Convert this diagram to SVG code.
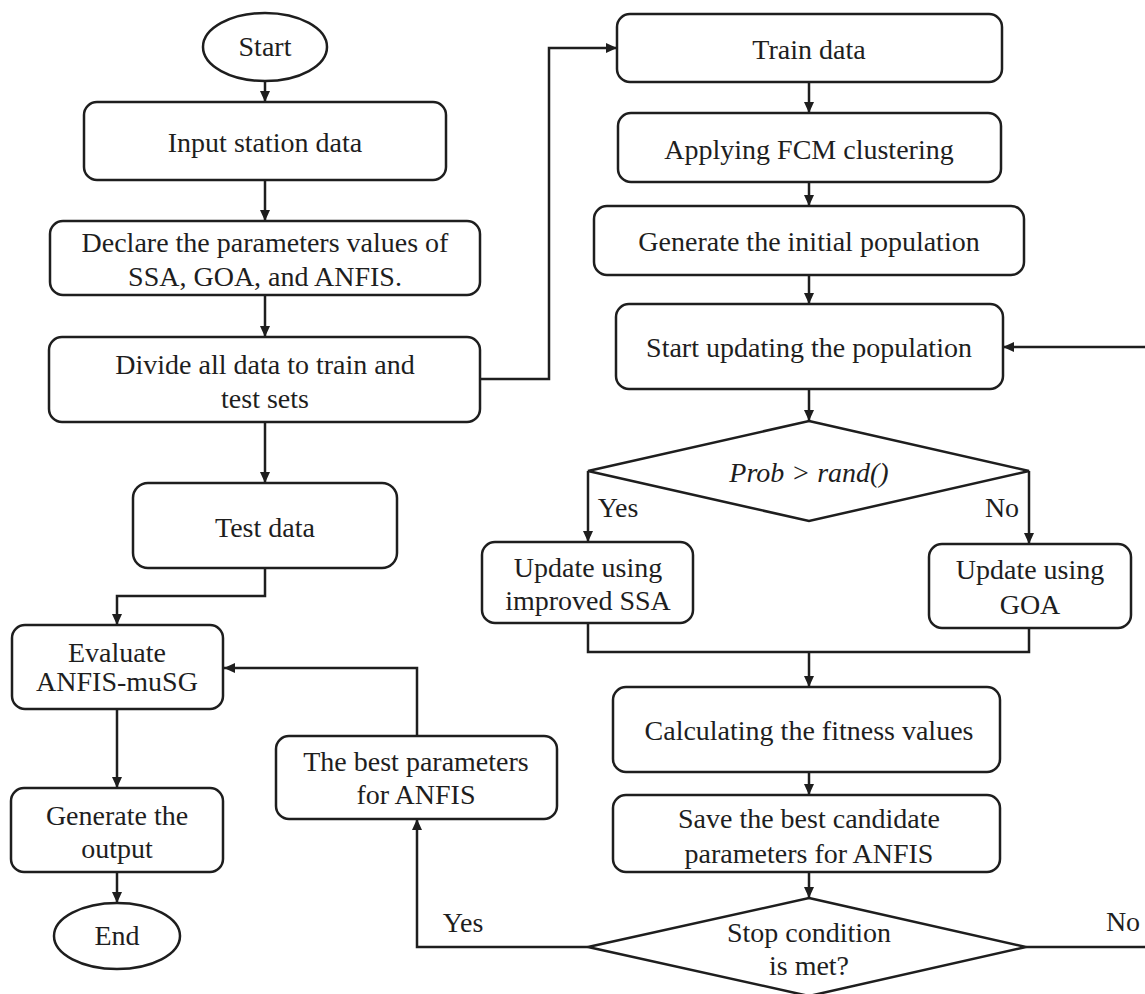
<svg xmlns="http://www.w3.org/2000/svg" width="1145" height="994" viewBox="0 0 1145 994" font-family="Liberation Serif, Times New Roman, Times, Tinos, Nimbus Roman, Noto Serif, DejaVu Serif, serif">
<style>
.n{fill:#fff;stroke:#1e1e1e;stroke-width:2.5}
text{font-size:28px;fill:#1e1e1e;text-anchor:middle}
.i{font-style:italic}
.c{fill:none;stroke:#1e1e1e;stroke-width:2.5}
</style>
<defs>
<marker id="ah" markerWidth="12" markerHeight="10" refX="11" refY="5" orient="auto" markerUnits="userSpaceOnUse">
<path d="M0,0 L11,5 L0,10 z" fill="#1e1e1e"/>
</marker>
</defs>
<rect width="1145" height="994" fill="#fff"/>
<g id="connectors">
<path class="c" d="M265,81 V102" marker-end="url(#ah)"/>
<path class="c" d="M265,180 V221" marker-end="url(#ah)"/>
<path class="c" d="M265,295 V337" marker-end="url(#ah)"/>
<path class="c" d="M480,379 H549 V48 H617" marker-end="url(#ah)"/>
<path class="c" d="M265,422 V483" marker-end="url(#ah)"/>
<path class="c" d="M265,568 V596 H117 V625" marker-end="url(#ah)"/>
<path class="c" d="M117,709 V788" marker-end="url(#ah)"/>
<path class="c" d="M117,872 V903" marker-end="url(#ah)"/>
<path class="c" d="M809,82 V113" marker-end="url(#ah)"/>
<path class="c" d="M809,182 V206" marker-end="url(#ah)"/>
<path class="c" d="M809,275 V304" marker-end="url(#ah)"/>
<path class="c" d="M809,389 V421" marker-end="url(#ah)"/>
<path class="c" d="M588,471 V542" marker-end="url(#ah)"/>
<path class="c" d="M1029,471 V544" marker-end="url(#ah)"/>
<path class="c" d="M588,623 V652 H1029 V628"/>
<path class="c" d="M809,652 V687" marker-end="url(#ah)"/>
<path class="c" d="M809,772 V795" marker-end="url(#ah)"/>
<path class="c" d="M809,872 V898" marker-end="url(#ah)"/>
<path class="c" d="M588,947 H417 V819" marker-end="url(#ah)"/>
<path class="c" d="M417,736 V668 H224" marker-end="url(#ah)"/>
<path class="c" d="M1026,947 H1146"/>
<path class="c" d="M1146,347 H1003" marker-end="url(#ah)"/>
<text x="618" y="517">Yes</text>
<text x="1002" y="517">No</text>
<text x="463" y="932">Yes</text>
<text x="1123" y="931">No</text>
</g>
<g id="start"><ellipse class="n" cx="265" cy="47" rx="62" ry="34"/><text x="265" y="56">Start</text></g>
<g id="input"><rect class="n" x="84" y="102" width="362" height="78" rx="13"/><text x="265" y="152">Input station data</text></g>
<g id="declare"><rect class="n" x="50" y="221" width="430" height="74" rx="13"/><text x="265" y="252">Declare the parameters values of</text><text x="265" y="286">SSA, GOA, and ANFIS.</text></g>
<g id="divide"><rect class="n" x="49" y="337" width="431" height="85" rx="13"/><text x="265" y="374">Divide all data to train and</text><text x="265" y="408">test sets</text></g>
<g id="test"><rect class="n" x="133" y="483" width="264" height="85" rx="15"/><text x="265" y="537">Test data</text></g>
<g id="evaluate"><rect class="n" x="12" y="625" width="211" height="84" rx="13"/><text x="117" y="662">Evaluate</text><text x="117" y="691">ANFIS-muSG</text></g>
<g id="output"><rect class="n" x="11" y="788" width="212" height="84" rx="13"/><text x="117" y="825">Generate the</text><text x="117" y="858">output</text></g>
<g id="end"><ellipse class="n" cx="117" cy="936" rx="63" ry="33"/><text x="117" y="945">End</text></g>
<g id="train"><rect class="n" x="617" y="14" width="385" height="68" rx="13"/><text x="809" y="59">Train data</text></g>
<g id="fcm"><rect class="n" x="618" y="113" width="383" height="69" rx="13"/><text x="809" y="159">Applying FCM clustering</text></g>
<g id="initpop"><rect class="n" x="594" y="206" width="430" height="69" rx="13"/><text x="809" y="251">Generate the initial population</text></g>
<g id="update"><rect class="n" x="616" y="304" width="387" height="85" rx="13"/><text x="809" y="357">Start updating the population</text></g>
<g id="prob"><polygon class="n" points="809,421 1029,471 809,521 588,471"/><text class="i" x="809" y="482">Prob &gt; rand()</text></g>
<g id="ssa"><rect class="n" x="482" y="542" width="211" height="81" rx="13"/><text x="588" y="577">Update using</text><text x="588" y="610">improved SSA</text></g>
<g id="goa"><rect class="n" x="929" y="544" width="202" height="84" rx="13"/><text x="1030" y="579">Update using</text><text x="1030" y="614">GOA</text></g>
<g id="fitness"><rect class="n" x="613" y="687" width="387" height="85" rx="13"/><text x="809" y="740">Calculating the fitness values</text></g>
<g id="save"><rect class="n" x="613" y="795" width="387" height="77" rx="13"/><text x="809" y="828">Save the best candidate</text><text x="809" y="863">parameters for ANFIS</text></g>
<g id="stop"><polygon class="n" points="809,898 1026,947 809,996 588,947"/><text x="809" y="942">Stop condition</text><text x="809" y="975">is met?</text></g>
<g id="best"><rect class="n" x="276" y="736" width="281" height="83" rx="13"/><text x="416" y="771">The best parameters</text><text x="416" y="804">for ANFIS</text></g>
</svg>
